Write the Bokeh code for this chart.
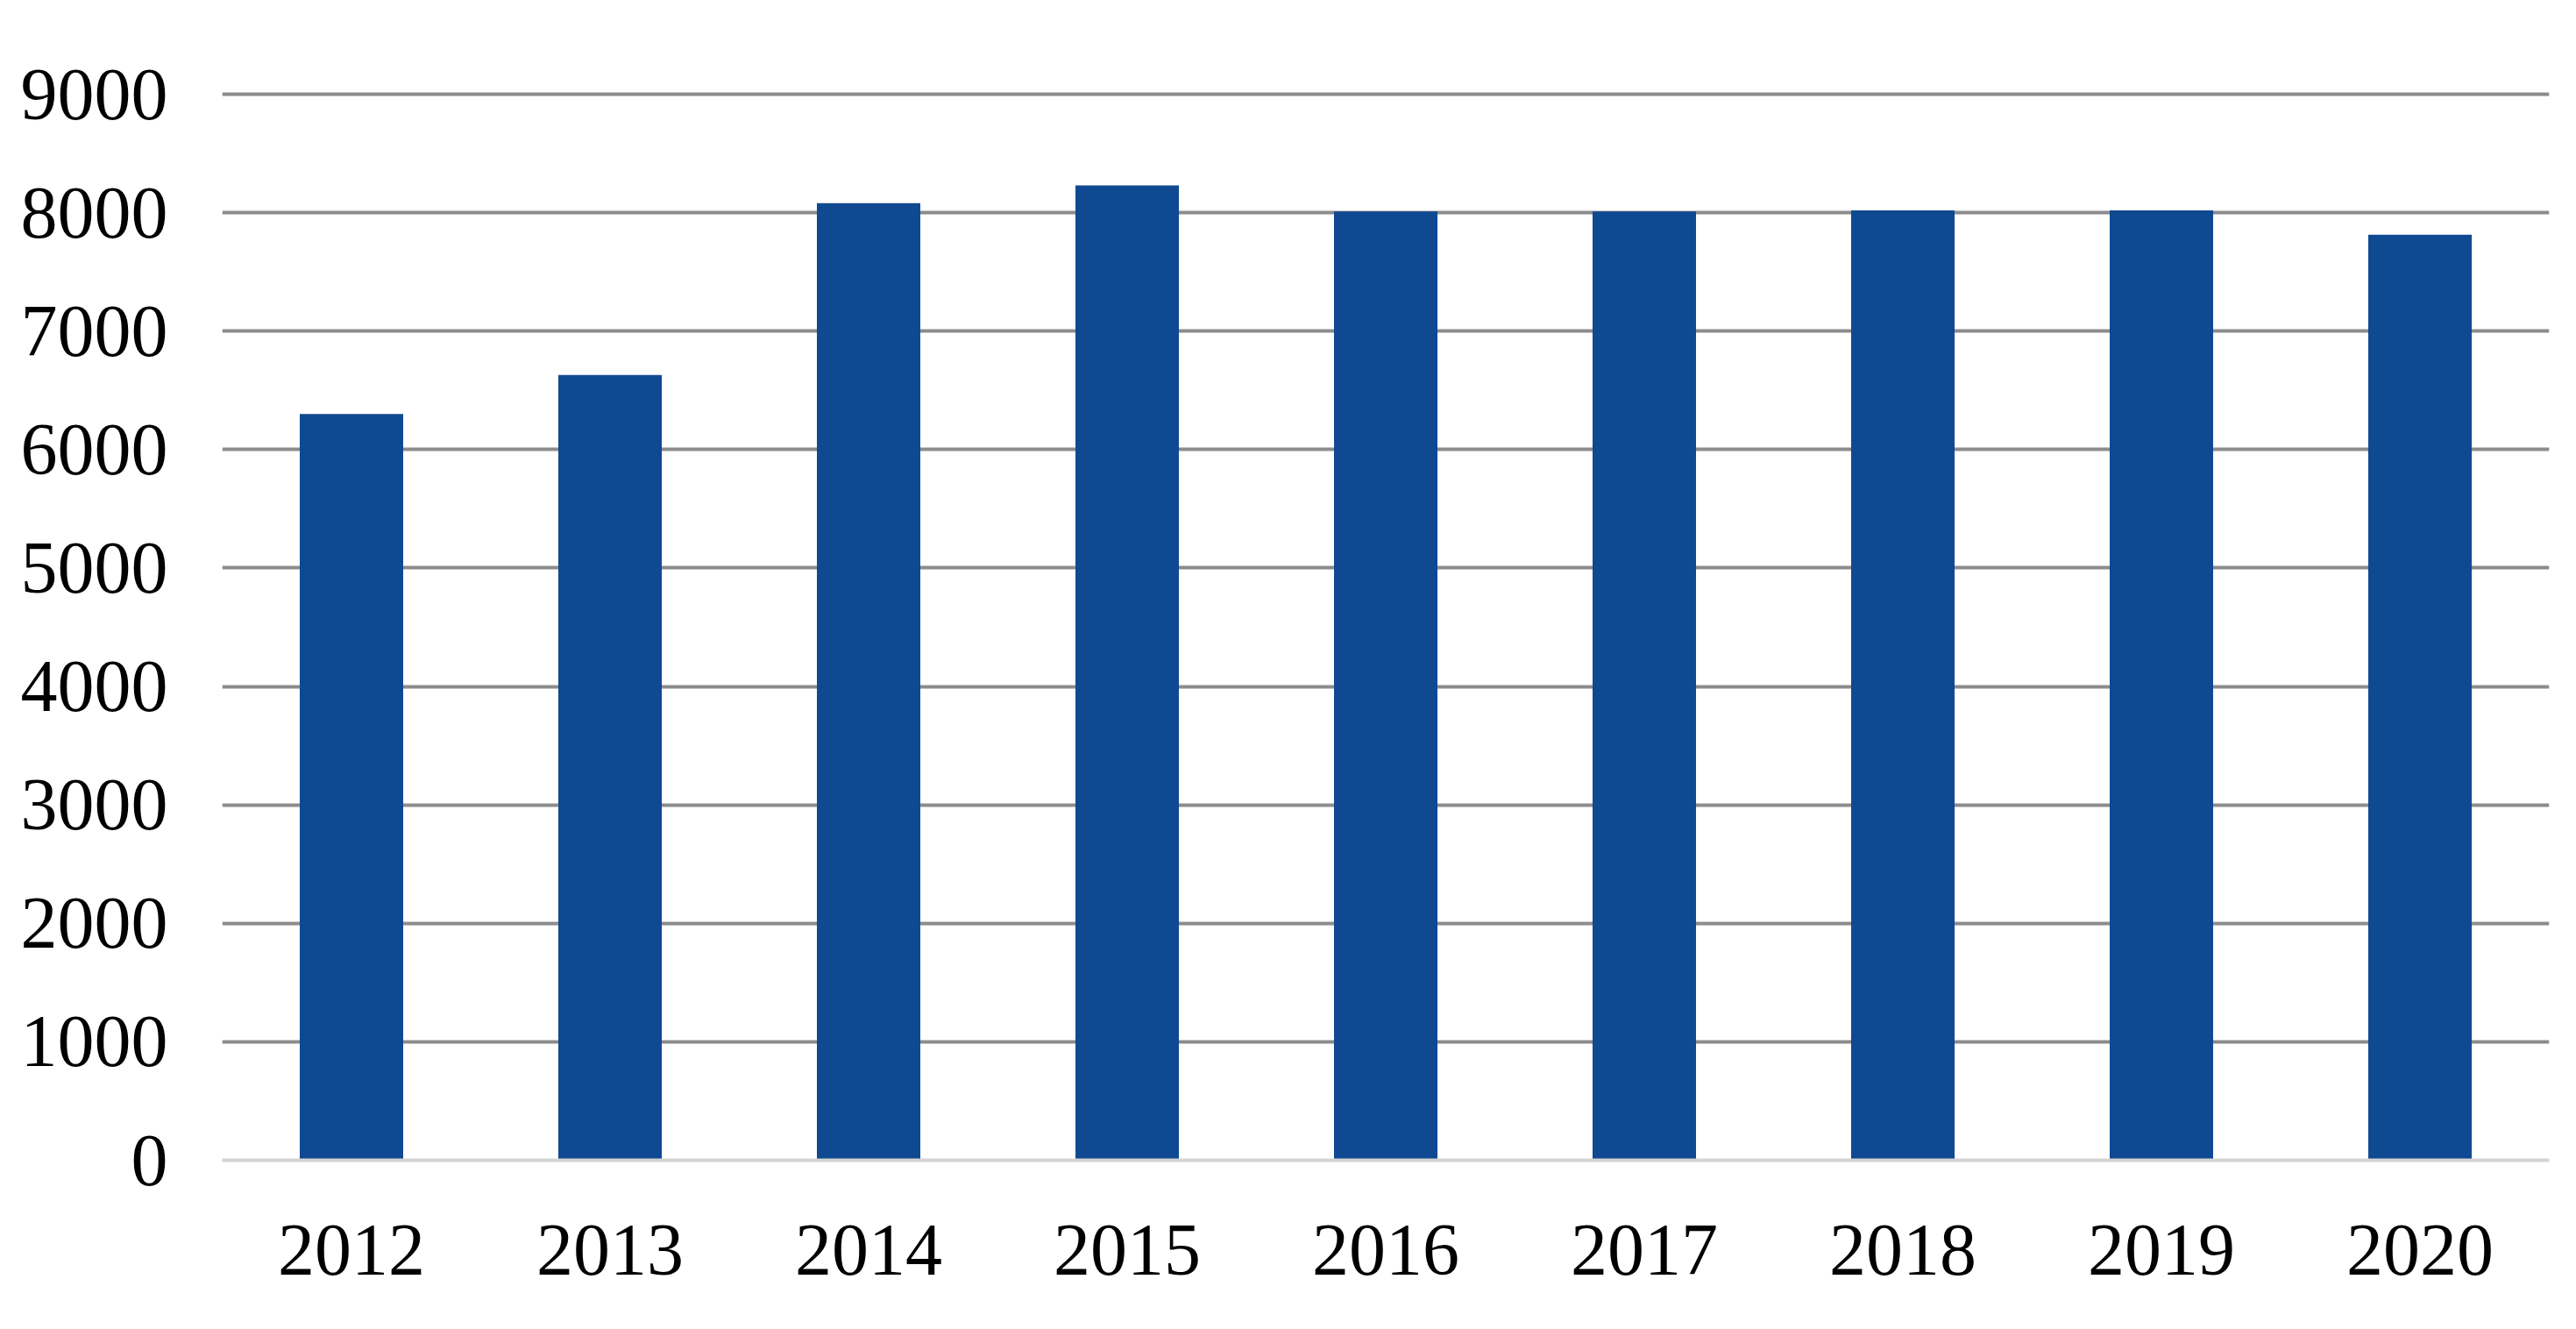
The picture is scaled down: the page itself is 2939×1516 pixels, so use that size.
from bokeh.plotting import figure
from bokeh.models import FactorRange, Range1d, FixedTicker
from bokeh.embed import file_html
from bokeh.resources import INLINE

years = ["2012", "2013", "2014", "2015", "2016", "2017", "2018", "2019", "2020"]
values = [6300, 6630, 8080, 8230, 8010, 8010, 8020, 8020, 7815]
y_ticks = [0, 1000, 2000, 3000, 4000, 5000, 6000, 7000, 8000, 9000]
grid_ticks = [1000, 2000, 3000, 4000, 5000, 6000, 7000, 8000, 9000]

BAR_COLOR = "#0F4992"
FONT = "Liberation Serif"

p = figure(
    width=2923, height=1500,
    x_range=FactorRange(*years, range_padding=0),
    y_range=Range1d(0, 9030),
    output_backend="svg", toolbar_location=None,
    min_border_left=253, min_border_right=15,
    min_border_top=103, min_border_bottom=177,
)
p.outline_line_color = None
p.background_fill_color = "white"
p.border_fill_color = "white"

p.vbar(x=years, top=values, width=0.4, fill_color=BAR_COLOR, line_color=None)

# grid
p.xgrid.grid_line_color = None
p.ygrid.ticker = FixedTicker(ticks=grid_ticks)
p.ygrid.grid_line_color = "#8C8C8C"
p.ygrid.grid_line_width = 4

# y axis
p.yaxis.ticker = FixedTicker(ticks=y_ticks)
p.yaxis.axis_line_color = None
p.yaxis.major_tick_line_color = None
p.yaxis.minor_tick_line_color = None
p.yaxis.major_label_text_font = FONT
p.yaxis.major_label_text_font_size = "84px"
p.yaxis.major_label_text_color = "black"
p.yaxis.major_label_standoff = 56

# x axis
p.xaxis.axis_line_color = "#D4D4D4"
p.xaxis.axis_line_width = 4
p.xaxis.major_tick_line_color = None
p.xaxis.minor_tick_line_color = None
p.xaxis.major_label_text_font = FONT
p.xaxis.major_label_text_font_size = "84px"
p.xaxis.major_label_text_color = "black"
p.xaxis.major_label_standoff = 68

open("out.html", "w").write(file_html(p, INLINE))
